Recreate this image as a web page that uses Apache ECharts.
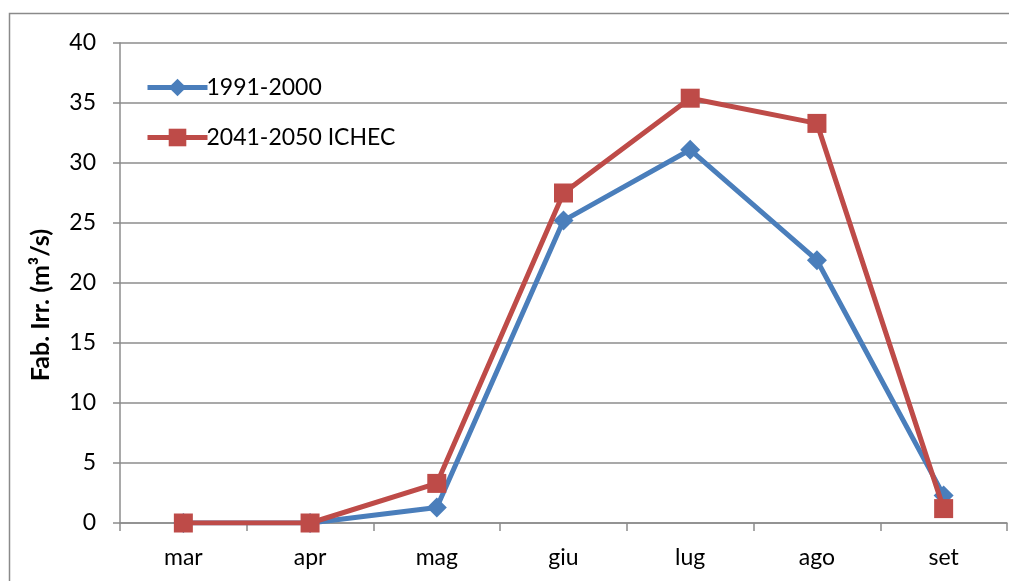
<!DOCTYPE html>
<html>
<head>
<meta charset="utf-8">
<script src="https://cdn.jsdelivr.net/npm/echarts@6/dist/echarts.min.js"></script>
<style>
  html, body { margin: 0; padding: 0; background: #fff; }
  #chart { width: 1009px; height: 581px; }
</style>
</head>
<body>
<div id="chart"></div>
<script>
// Months (Italian abbreviations)
const months = ['mar', 'apr', 'mag', 'giu', 'lug', 'ago', 'set'];
// Monthly irrigation demand, m3/s
const base1991 = [0, 0, 1.3, 25.2, 31.1, 21.9, 2.3];
const ichec2041 = [0, 0, 3.3, 27.5, 35.4, 33.3, 1.2];
const seriesNames = ['1991-2000', '2041-2050 ICHEC'];
const yTicks = { min: 0, max: 40, step: 5 };
const yTitle = 'Fab. Irr. (m\u00b3/s)';

const FONT = 'Lato, "Open Sans", sans-serif';
const BLUE = '#4a7ebb';
const RED = '#be4b48';
const GRID = '#8c8c8c';

const chart = echarts.init(document.getElementById('chart'), null, { renderer: 'canvas' });

chart.setOption({
  backgroundColor: '#ffffff',
  animation: false,
  textStyle: { fontFamily: FONT },
  graphic: [
    {
      type: 'rect',
      shape: { x: 9.5, y: 13.5, width: 1200, height: 800 },
      style: { fill: 'none', stroke: '#8a8a8a', lineWidth: 1.5 },
      silent: true
    },
    {
      type: 'text',
      x: 41, y: 305,
      rotation: Math.PI / 2,
      style: {
        text: yTitle,
        fill: '#000',
        font: 'bold 25px ' + FONT,
        align: 'center',
        verticalAlign: 'middle'
      }
    }
  ],
  legend: {
    orient: 'vertical',
    left: 140,
    top: 71,
    itemWidth: 60,
    itemHeight: 22,
    itemGap: 27,
    lineStyle: { width: 5 },
    textStyle: { fontSize: 23, color: '#000', fontFamily: FONT, padding: [0, 0, 0, -6] },
    data: seriesNames
  },
  grid: { left: 120, right: 2, top: 43, bottom: 58 },
  xAxis: {
    type: 'category',
    data: months,
    boundaryGap: true,
    axisLine: { lineStyle: { color: GRID, width: 1.5 } },
    axisTick: { show: true, length: 8, interval: 0, lineStyle: { color: GRID, width: 1.5 } },
    axisLabel: { fontSize: 23, color: '#000', margin: 23, fontFamily: FONT }
  },
  yAxis: {
    type: 'value',
    min: yTicks.min,
    max: yTicks.max,
    interval: yTicks.step,
    axisLine: { show: true, lineStyle: { color: GRID, width: 1.5 } },
    axisTick: { show: true, length: 7, lineStyle: { color: GRID, width: 1.5 } },
    axisLabel: { fontSize: 23, color: '#000', margin: 24, fontFamily: FONT },
    splitLine: { show: true, lineStyle: { color: GRID, width: 1.5 } }
  },
  series: [
    {
      name: seriesNames[0],
      type: 'line',
      data: base1991,
      symbol: 'diamond',
      symbolSize: 20,
      lineStyle: { color: BLUE, width: 5 },
      itemStyle: { color: BLUE },
      z: 2
    },
    {
      name: seriesNames[1],
      type: 'line',
      data: ichec2041,
      symbol: 'rect',
      symbolSize: 19,
      lineStyle: { color: RED, width: 5 },
      itemStyle: { color: RED },
      z: 3
    }
  ]
});
</script>
</body>
</html>
